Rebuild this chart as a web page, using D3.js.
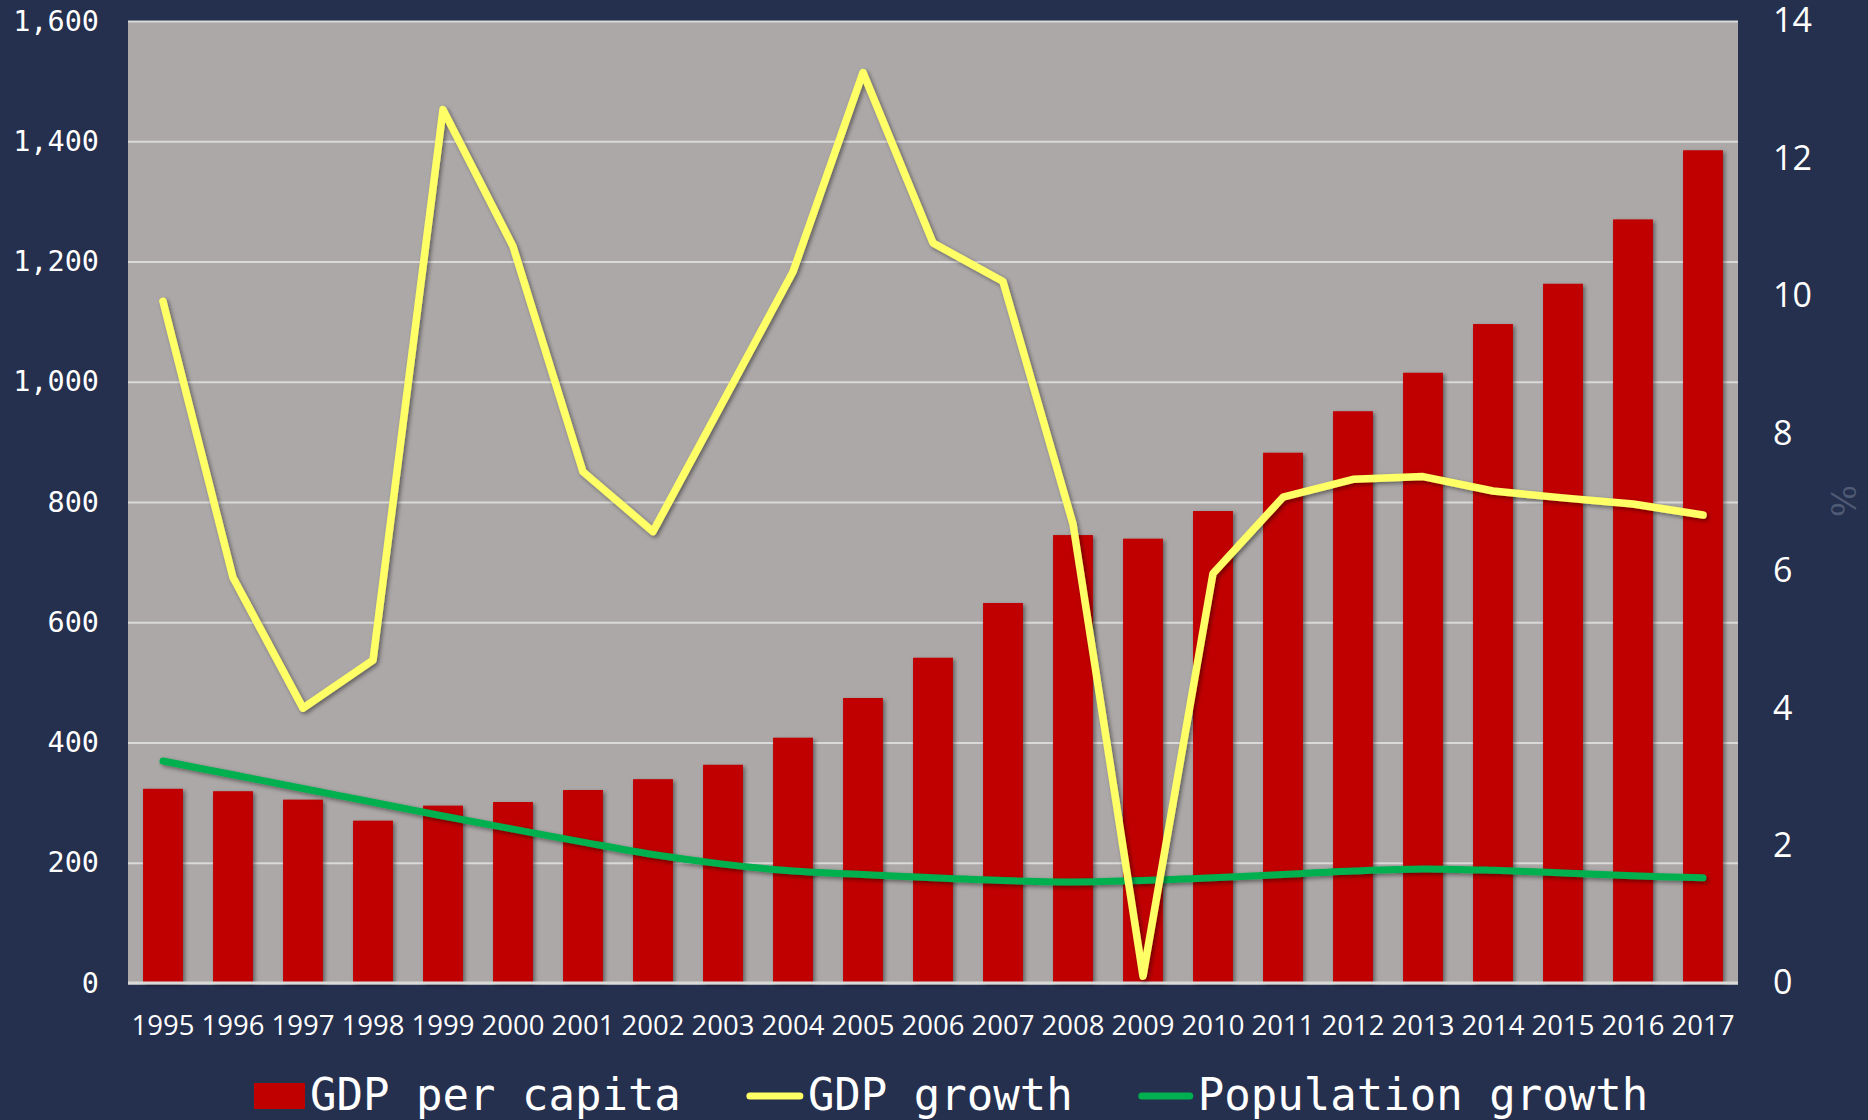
<!DOCTYPE html>
<html>
<head>
<meta charset="utf-8">
<script src="https://cdn.jsdelivr.net/npm/d3@7"></script>
<style>
  html, body { margin: 0; padding: 0; background: #252f4e; }
  svg { display: block; }
</style>
</head>
<body>
<div id="chart"></div>
<script>
// chart data
const years = ["1995","1996","1997","1998","1999","2000","2001","2002","2003","2004","2005",
               "2006","2007","2008","2009","2010","2011","2012","2013","2014","2015","2016","2017"];
const gdpPerCapita = [323, 319, 305, 270, 295, 301, 321, 339, 363, 408, 474,
                      541, 632, 745, 739, 785, 882, 951, 1015, 1096, 1163, 1270, 1385];
const gdpGrowth = [9.92, 5.9, 4.0, 4.7, 12.71, 10.72, 7.44, 6.57, 8.46, 10.35, 13.25,
                   10.77, 10.21, 6.68, 0.1, 5.96, 7.07, 7.33, 7.37, 7.16, 7.06, 6.97, 6.81];
const popGrowth = [3.23, 3.03, 2.83, 2.63, 2.43, 2.24, 2.05, 1.87, 1.73, 1.63, 1.58,
                   1.53, 1.49, 1.47, 1.49, 1.53, 1.58, 1.63, 1.66, 1.64, 1.60, 1.56, 1.53];
const leftTicks = [0, 200, 400, 600, 800, 1000, 1200, 1400, 1600];
const rightTicks = [0, 2, 4, 6, 8, 10, 12, 14];
const legendNames = ["GDP per capita", "GDP growth", "Population growth"];

// constants for plot design
const FRAME_WIDTH = 1868;
const FRAME_HEIGHT = 1120;
const MARGINS = {left: 128, right: 130, top: 21, bottom: 137};
const VIS_WIDTH = FRAME_WIDTH - MARGINS.left - MARGINS.right;
const VIS_HEIGHT = FRAME_HEIGHT - MARGINS.top - MARGINS.bottom;

const BG = "#252f4e";
const PLOT_BG = "#aca8a7";
const GRID = "#d9d9d9";
const BAR_COLOR = "#c00000";
const YELLOW = "#ffff66";
const GREEN = "#00b050";

const svg = d3.select("#chart")
  .append("svg")
    .attr("width", FRAME_WIDTH)
    .attr("height", FRAME_HEIGHT);

svg.append("rect")
  .attr("width", FRAME_WIDTH).attr("height", FRAME_HEIGHT)
  .attr("fill", BG);

// shadows like the office chart
const defs = svg.append("defs");
defs.append("filter").attr("id", "shadow")
    .attr("x", "-20%").attr("y", "-20%").attr("width", "140%").attr("height", "140%")
  .append("feDropShadow")
    .attr("dx", 2).attr("dy", 2).attr("stdDeviation", 2)
    .attr("flood-color", "#000").attr("flood-opacity", 0.45);

const g = svg.append("g")
  .attr("transform", "translate(" + MARGINS.left + "," + MARGINS.top + ")");

// scales
const xScale = d3.scaleBand()
  .domain(years)
  .range([0, VIS_WIDTH])
  .paddingInner(0.43)
  .paddingOuter(0.215);

const yLeft = d3.scaleLinear().domain([0, 1600]).range([VIS_HEIGHT, 0]);
const yRight = d3.scaleLinear().domain([0, 14]).range([VIS_HEIGHT, 0]);

// plot area
g.append("rect")
  .attr("width", VIS_WIDTH).attr("height", VIS_HEIGHT)
  .attr("fill", PLOT_BG);

// gridlines
g.append("g")
  .call(d3.axisLeft(yLeft).tickValues(leftTicks).tickSize(-VIS_WIDTH).tickFormat(""))
  .call(s => s.select(".domain").remove())
  .call(s => s.selectAll("line").attr("stroke", GRID).attr("stroke-width", 2));

// bars
g.append("g")
  .attr("filter", "url(#shadow)")
  .selectAll("rect")
  .data(years)
  .enter()
  .append("rect")
    .attr("x", d => xScale(d))
    .attr("y", (d, i) => yLeft(gdpPerCapita[i]))
    .attr("width", xScale.bandwidth())
    .attr("height", (d, i) => VIS_HEIGHT - yLeft(gdpPerCapita[i]))
    .attr("fill", BAR_COLOR);

// baseline
g.append("line")
  .attr("x1", 0).attr("x2", VIS_WIDTH)
  .attr("y1", VIS_HEIGHT).attr("y2", VIS_HEIGHT)
  .attr("stroke", GRID).attr("stroke-width", 3);

const cx = d => xScale(d) + xScale.bandwidth() / 2;

// population growth (smoothed)
g.append("path")
  .datum(years)
  .attr("d", d3.line()
      .x(d => cx(d))
      .y((d, i) => yRight(popGrowth[i]))
      .curve(d3.curveCatmullRom.alpha(0.5)))
  .attr("fill", "none")
  .attr("stroke", GREEN)
  .attr("stroke-width", 7)
  .attr("stroke-linecap", "round")
  .attr("filter", "url(#shadow)");

// gdp growth
g.append("path")
  .datum(years)
  .attr("d", d3.line()
      .x(d => cx(d))
      .y((d, i) => yRight(gdpGrowth[i])))
  .attr("fill", "none")
  .attr("stroke", YELLOW)
  .attr("stroke-width", 7.5)
  .attr("stroke-linecap", "round")
  .attr("stroke-linejoin", "round")
  .attr("filter", "url(#shadow)");

// left axis
g.append("g")
  .call(d3.axisLeft(yLeft).tickValues(leftTicks).tickSize(0).tickPadding(29).tickFormat(d3.format(",")))
  .call(s => s.select(".domain").remove())
  .call(s => s.selectAll("text")
      .attr("fill", "#ffffff")
      .attr("font-family", "DejaVu Sans Mono")
      .attr("font-size", "28.5px"));

// right axis
g.append("g")
  .attr("transform", "translate(" + VIS_WIDTH + ",0)")
  .call(d3.axisRight(yRight).tickValues(rightTicks).tickSize(0).tickPadding(35))
  .call(s => s.select(".domain").remove())
  .call(s => s.selectAll("text")
      .attr("fill", "#ffffff")
      .attr("font-family", "Open Sans")
      .attr("font-size", "34px"));

// x axis
g.append("g")
  .attr("transform", "translate(0," + VIS_HEIGHT + ")")
  .call(d3.axisBottom(xScale).tickSize(0).tickPadding(32))
  .call(s => s.select(".domain").remove())
  .call(s => s.selectAll("text")
      .attr("fill", "#ffffff")
      .attr("font-family", "Open Sans")
      .attr("font-size", "27.5px"));

// right axis title
svg.append("text")
  .attr("transform", "translate(1843,501) rotate(90)")
  .attr("text-anchor", "middle")
  .attr("dominant-baseline", "central")
  .attr("fill", "#4f5a74")
  .attr("font-family", "DejaVu Serif")
  .attr("font-size", "34px")
  .text("%");

// legend
const legend = svg.append("g");
const swatchW = [51, 56, 54];
let lx = 254;
legendNames.forEach((name, i) => {
  if (i === 0) {
    legend.append("rect")
      .attr("x", lx).attr("y", 1083)
      .attr("width", swatchW[i]).attr("height", 26)
      .attr("fill", BAR_COLOR);
  } else {
    legend.append("line")
      .attr("x1", lx + 3).attr("x2", lx + swatchW[i] - 3)
      .attr("y1", 1096).attr("y2", 1096)
      .attr("stroke", i === 1 ? YELLOW : GREEN)
      .attr("stroke-width", 7)
      .attr("stroke-linecap", "round");
  }
  lx += swatchW[i] + 5;
  const t = legend.append("text")
    .attr("x", lx).attr("y", 1110)
    .attr("fill", "#ffffff")
    .attr("font-family", "DejaVu Sans Mono")
    .attr("font-size", "44px")
    .text(name);
  lx += t.node().getComputedTextLength() + 66;
});
</script>
</body>
</html>
